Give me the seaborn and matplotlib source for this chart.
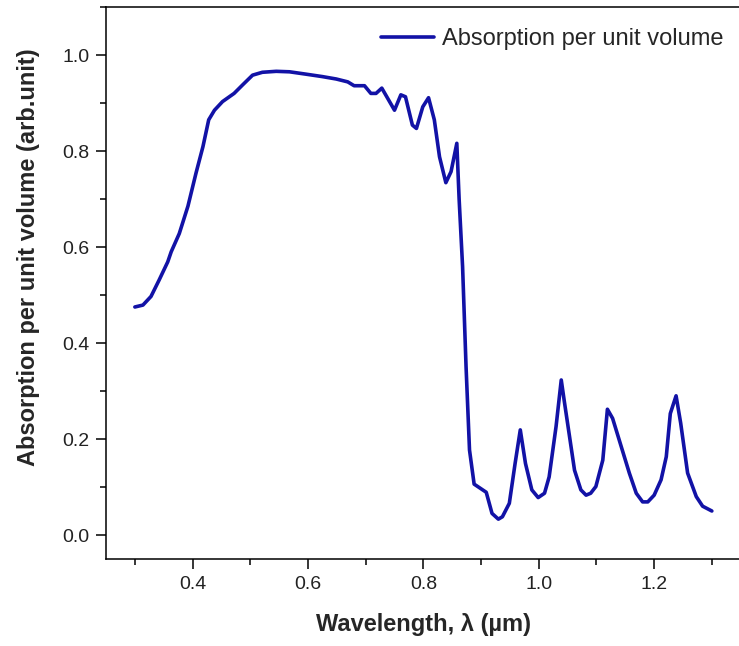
import matplotlib
matplotlib.use("Agg")
import matplotlib.pyplot as plt
import seaborn as sns
import numpy as np
import pandas as pd
from matplotlib.ticker import MultipleLocator

# --- Data ---
wavelength_um = [
    0.300, 0.314, 0.328, 0.342, 0.357, 0.363, 0.377, 0.392, 0.406, 0.418,
    0.428, 0.438, 0.452, 0.472, 0.487, 0.504, 0.521, 0.545, 0.568, 0.597,
    0.625, 0.649, 0.669, 0.680, 0.698, 0.709, 0.718, 0.728, 0.750, 0.761,
    0.769, 0.781, 0.788, 0.799, 0.809, 0.819, 0.828, 0.839, 0.848, 0.858,
    0.862, 0.868, 0.874, 0.880, 0.888, 0.909, 0.919, 0.930, 0.937, 0.949,
    0.959, 0.968, 0.977, 0.988, 0.999, 1.010, 1.018, 1.030, 1.039, 1.044,
    1.062, 1.073, 1.082, 1.090, 1.099, 1.111, 1.119, 1.128, 1.143, 1.157,
    1.169, 1.180, 1.189, 1.200, 1.212, 1.221, 1.228, 1.238, 1.246, 1.258,
    1.273, 1.284, 1.300,
]
absorption = [
    0.475, 0.479, 0.497, 0.531, 0.569, 0.590, 0.628, 0.685, 0.754, 0.809,
    0.865, 0.885, 0.903, 0.920, 0.938, 0.958, 0.964, 0.966, 0.965, 0.960,
    0.955, 0.950, 0.944, 0.936, 0.936, 0.920, 0.920, 0.931, 0.885, 0.917,
    0.913, 0.854, 0.847, 0.892, 0.911, 0.865, 0.788, 0.734, 0.757, 0.816,
    0.700, 0.559, 0.351, 0.177, 0.106, 0.089, 0.045, 0.033, 0.038, 0.066,
    0.149, 0.219, 0.149, 0.094, 0.078, 0.087, 0.121, 0.226, 0.323, 0.281,
    0.135, 0.094, 0.083, 0.087, 0.101, 0.156, 0.262, 0.243, 0.184, 0.129,
    0.087, 0.069, 0.069, 0.083, 0.115, 0.163, 0.253, 0.290, 0.233, 0.129,
    0.080, 0.060, 0.050,
]
series_label = "Absorption per unit volume"
x_ticks = [0.4, 0.6, 0.8, 1.0, 1.2]
y_ticks = [0.0, 0.2, 0.4, 0.6, 0.8, 1.0]

df = pd.DataFrame({"wavelength": wavelength_um, "absorption": absorption})

# --- Style ---
sns.set_style("ticks")
plt.rcParams["font.family"] = ["Liberation Sans", "DejaVu Sans"]

fig = plt.figure(figsize=(7.39, 6.46), dpi=100)
ax = fig.add_axes([106 / 739, 87 / 646, 634.7 / 739, 552 / 646])

sns.lineplot(data=df, x="wavelength", y="absorption", sort=False,
             color="#1212A6", linewidth=2.6, label=series_label, ax=ax)

ax.set_xlim(0.25, 1.35)
ax.set_ylim(-0.05, 1.10)
ax.xaxis.set_minor_locator(MultipleLocator(0.1))
ax.yaxis.set_minor_locator(MultipleLocator(0.1))
ax.set_xticks(x_ticks)
ax.set_xticklabels([f"{v:.1f}" for v in x_ticks])
ax.set_yticks(y_ticks)
ax.set_yticklabels([f"{v:.1f}" for v in y_ticks])

ax.tick_params(which="major", direction="out", length=7, width=1.1,
               labelsize=14, color="black", labelcolor="#222222")
ax.tick_params(which="minor", direction="out", length=4, width=1.1, color="black")
ax.tick_params(axis="x", which="major", pad=5)
ax.tick_params(axis="y", which="major", pad=5)

for side in ["left", "bottom", "top"]:
    ax.spines[side].set_visible(True)
    ax.spines[side].set_linewidth(1.1)
    ax.spines[side].set_color("black")
ax.spines["right"].set_visible(False)

ax.set_xlabel("Wavelength, λ (µm)", fontsize=17, fontweight="bold")
ax.set_ylabel("Absorption per unit volume (arb.unit)", fontsize=17, fontweight="bold")
ax.xaxis.set_label_coords(0.5, -0.098)
ax.yaxis.set_label_coords(-0.104, 0.547)

ax.legend(loc="center left", bbox_to_anchor=(0.4335, 0.9415), frameon=False,
          fontsize=17, handlelength=2.25, handletextpad=0.34,
          borderpad=0, borderaxespad=0)

fig.savefig("out.png", dpi=100)
plt.close(fig)
